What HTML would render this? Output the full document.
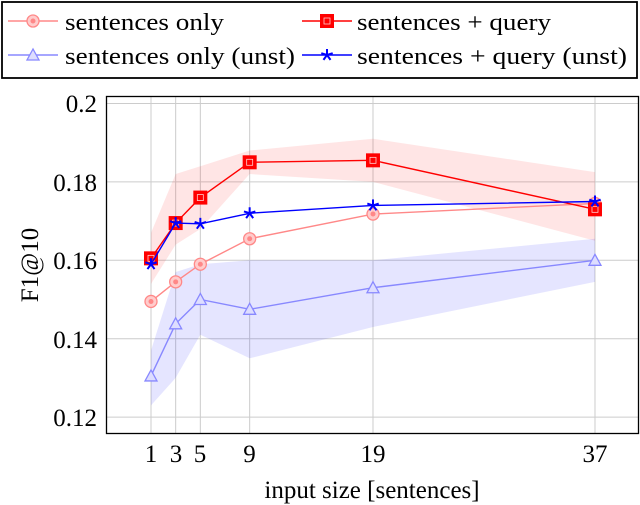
<!DOCTYPE html>
<html><head><style>body{margin:0;background:#fff}svg{display:block}</style></head><body>
<svg id="s" width="640" height="505" xmlns="http://www.w3.org/2000/svg" font-family="Liberation Serif, serif">
<rect x="2" y="2" width="635" height="76" fill="#fff" stroke="#000" stroke-width="1.8"/>
<g font-size="24" fill="#000">
<text x="65" y="30" textLength="159" lengthAdjust="spacingAndGlyphs">sentences only</text>
<text x="357" y="30" textLength="194" lengthAdjust="spacingAndGlyphs">sentences + query</text>
<text x="65" y="64" textLength="230" lengthAdjust="spacingAndGlyphs">sentences only (unst)</text>
<text x="357" y="64" textLength="270" lengthAdjust="spacingAndGlyphs">sentences + query (unst)</text>
</g>
<g font-size="25" text-anchor="middle">
<text x="151" y="462">1</text><text x="176" y="462">3</text><text x="200" y="462">5</text><text x="249.5" y="462">9</text><text x="373" y="462">19</text><text x="595" y="462">37</text>
<text x="372" y="498">input size [sentences]</text>
</g>
<g font-size="25" text-anchor="end">
<text x="97" y="112">0.2</text><text x="97" y="191">0.18</text><text x="97" y="269">0.16</text><text x="97" y="348">0.14</text><text x="97" y="426">0.12</text>
</g>
<text font-size="25" transform="translate(38,265) rotate(-90)" text-anchor="middle">F1@10</text>
<g id="g"></g>
<rect x="106.5" y="96.5" width="532" height="337" fill="none" stroke="#000" stroke-width="1.3"/>
</svg>
<script>
const X=v=>151+(v-1)*12.333, Y=v=>260.3-(v-0.16)*3920;
const xs=[1,3,5,9,19,37];
let h='';
[0.2,0.18,0.16,0.14,0.12].forEach(v=>{h+=`<line x1="106" x2="639" y1="${Y(v)}" y2="${Y(v)}" stroke="#ccc" stroke-width="1"/>`;});
xs.forEach(v=>{h+=`<line y1="96" y2="434" x1="${X(v)}" x2="${X(v)}" stroke="#ccc" stroke-width="1"/>`;});
function band(lo,hi,c){let p=xs.map((x,i)=>X(x)+','+Y(hi[i])).concat(xs.slice().reverse().map((x,i)=>X(x)+','+Y(lo[5-i])));return `<polygon points="${p.join(' ')}" fill="${c}"/>`;}
h+=band([0.154,0.164,0.168,0.182,0.18,0.165],[0.167,0.182,0.184,0.188,0.191,0.1825],'rgba(255,0,0,0.1)');
h+=band([0.123,0.13,0.141,0.135,0.143,0.1545],[0.137,0.157,0.159,0.160,0.160,0.1655],'rgba(0,0,255,0.1)');
function line(d,c){return `<polyline points="${xs.map((x,i)=>X(x)+','+Y(d[i])).join(' ')}" fill="none" stroke="${c}" stroke-width="1.4"/>`;}
function circ(x,y){return `<circle cx="${x}" cy="${y}" r="6" fill="#fcc" stroke="#f88" stroke-width="1.3"/><circle cx="${x}" cy="${y}" r="2.5" fill="#f88"/>`;}
function sq(x,y){return `<rect x="${x-6.5}" y="${y-6.5}" width="13" height="13" fill="#f00" stroke="#f00"/><rect x="${x-3}" y="${y-3}" width="6" height="6" fill="none" stroke="#fcc" stroke-width="0.8"/>`;}
function tri(x,y){return `<polygon points="${x},${y-6} ${x-6},${y+5} ${x+6},${y+5}" fill="#ddf" stroke="#88f" stroke-width="1.3"/>`;}
function star(x,y){let p=[];for(let k=0;k<5;k++){let a=-Math.PI/2+k*2*Math.PI/5;p.push(`<line x1="${x}" y1="${y}" x2="${x+6*Math.cos(a)}" y2="${y+6*Math.sin(a)}" stroke="#00f" stroke-width="2"/>`);}return p.join('');}
const S=[[[0.1495,0.1545,0.159,0.1655,0.1718,0.1745],'#f88',circ],
[[0.1605,0.1695,0.176,0.185,0.1855,0.173],'#f00',sq],
[[0.1305,0.1438,0.150,0.1475,0.153,0.160],'#88f',tri],
[[0.159,0.1695,0.1693,0.172,0.174,0.175],'#00f',star]];
S.forEach(([d,c,m])=>{h+=line(d,c);d.forEach((v,i)=>h+=m(X(xs[i]),Y(v)));});
const L=[[8,21,'#f88',circ],[302,21,'#f00',sq],[8,55,'#88f',tri],[302,55,'#00f',star]];
L.forEach(([x,y,c,m])=>{h+=`<line x1="${x}" x2="${x+50}" y1="${y}" y2="${y}" stroke="${c}" stroke-width="1.4"/>`+m(x+25,y);});
document.getElementById('g').innerHTML=h;
</script>
</body></html>
